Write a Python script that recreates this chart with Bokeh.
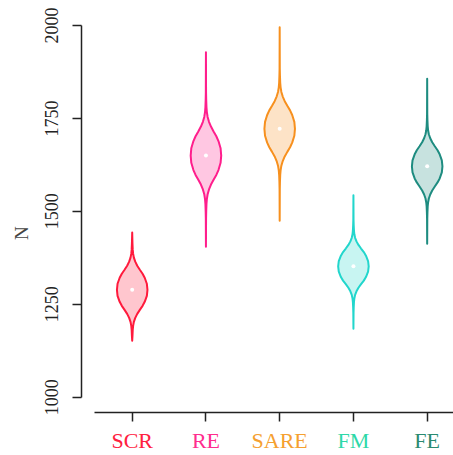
from bokeh.plotting import figure
from bokeh.models import Range1d, FixedTicker, LinearAxis, ColumnDataSource
from bokeh.embed import file_html
from bokeh.resources import INLINE

# ---- data ----
groups = ["SCR", "RE", "SARE", "FM", "FE"]
medians = [1289, 1650, 1722, 1352, 1621]
tail_low = [1152, 1405, 1475, 1184, 1413]
tail_high = [1443, 1928, 1995, 1543, 1857]
half_height = [54, 65, 62, 48, 54]          # N offset where density falls to half its peak
line_colors = ["#FF1A3C", "#FF1E8C", "#F7901E", "#22D6CC", "#1E8C80"]
label_colors = ["#FF2040", "#FF2D8E", "#F5A030", "#2ED8A8", "#2A8A70"]
y_ticks = [1000, 1250, 1500, 1750, 2000]

# shared violin profile (offset in half-height units -> relative density)
prof_z = [0.0, 0.3, 0.6, 0.8, 1.0, 1.2, 1.4, 1.6, 1.8, 2.0, 2.3, 2.6]
prof_d = [1.0, 0.96, 0.82, 0.68, 0.5, 0.33, 0.2, 0.11, 0.06, 0.035, 0.018, 0.008]

FONT = "Liberation Serif"
HALF_W = 0.207
X_AXIS_AT = 959.6

p = figure(width=453, height=455, output_backend="svg", toolbar_location=None,
           x_range=Range1d(0.3125, 5.357), y_range=Range1d(843.2, 2040.3),
           x_axis_location=None,
           min_border_left=81, min_border_right=0, min_border_top=10, min_border_bottom=0)
p.outline_line_color = None
p.xgrid.visible = False
p.ygrid.visible = False
p.background_fill_color = None
p.border_fill_color = "white"

xs_all, ys_all = [], []
for i, g in enumerate(groups):
    cx = i + 1
    m, h = medians[i], half_height[i]
    up_y, up_d = [], []
    for z, d in zip(prof_z, prof_d):
        if m + z * h < tail_high[i]:
            up_y.append(m + z * h); up_d.append(d)
    up_y.append(tail_high[i]); up_d.append(0.0)
    lo_y, lo_d = [], []
    for z, d in zip(prof_z, prof_d):
        if m - z * h > tail_low[i]:
            lo_y.append(m - z * h); lo_d.append(d)
    lo_y.append(tail_low[i]); lo_d.append(0.0)
    ry = lo_y[::-1] + up_y[1:]
    rd = lo_d[::-1] + up_d[1:]
    xs = [cx + HALF_W * d for d in rd] + [cx - HALF_W * d for d in rd[::-1]]
    ys = ry + ry[::-1]
    xs_all.append(xs); ys_all.append(ys)

src = ColumnDataSource(dict(xs=xs_all, ys=ys_all, lc=line_colors))
p.patches("xs", "ys", source=src, fill_color="lc", fill_alpha=0.25,
          line_color="lc", line_width=2, line_join="round")
p.scatter(x=[i + 1 for i in range(len(groups))], y=medians, size=4,
          fill_color="white", line_color=None)

# y axis
ya = p.yaxis[0]
ya.ticker = FixedTicker(ticks=y_ticks)
ya.bounds = (1000, 2000)
ya.axis_label = "N"
ya.axis_label_text_font = FONT
ya.axis_label_text_font_size = "19px"
ya.axis_label_text_font_style = "normal"
ya.axis_label_standoff = 11
ya.major_label_text_font = FONT
ya.major_label_text_font_size = "18px"
ya.major_label_orientation = "vertical"
ya.major_label_standoff = 14
ya.major_tick_out = 9
ya.major_tick_in = 0
ya.minor_tick_out = 0
ya.minor_tick_in = 0
ya.axis_line_width = 1.5
ya.major_tick_line_width = 1.5
ya.axis_line_color = "#222222"
ya.major_tick_line_color = "#222222"
ya.major_label_text_color = "#222222"

# x axes: one per category so each tick label gets its own colour
for i, g in enumerate(groups):
    ax = LinearAxis(fixed_location=X_AXIS_AT,
                    ticker=FixedTicker(ticks=[i + 1]),
                    major_label_overrides={i + 1: g},
                    major_label_text_font=FONT,
                    major_label_text_font_size="22px",
                    major_label_text_color=label_colors[i],
                    major_label_standoff=7,
                    major_tick_out=9, major_tick_in=0,
                    minor_tick_out=0, minor_tick_in=0,
                    major_tick_line_width=1.5,
                    major_tick_line_color="#222222",
                    axis_line_width=1.5,
                    axis_line_color="#222222" if i == 0 else None,
                    bounds=(0.489, 5.357))
    p.add_layout(ax, "below")

open("out.html", "w").write(file_html(p, INLINE))
